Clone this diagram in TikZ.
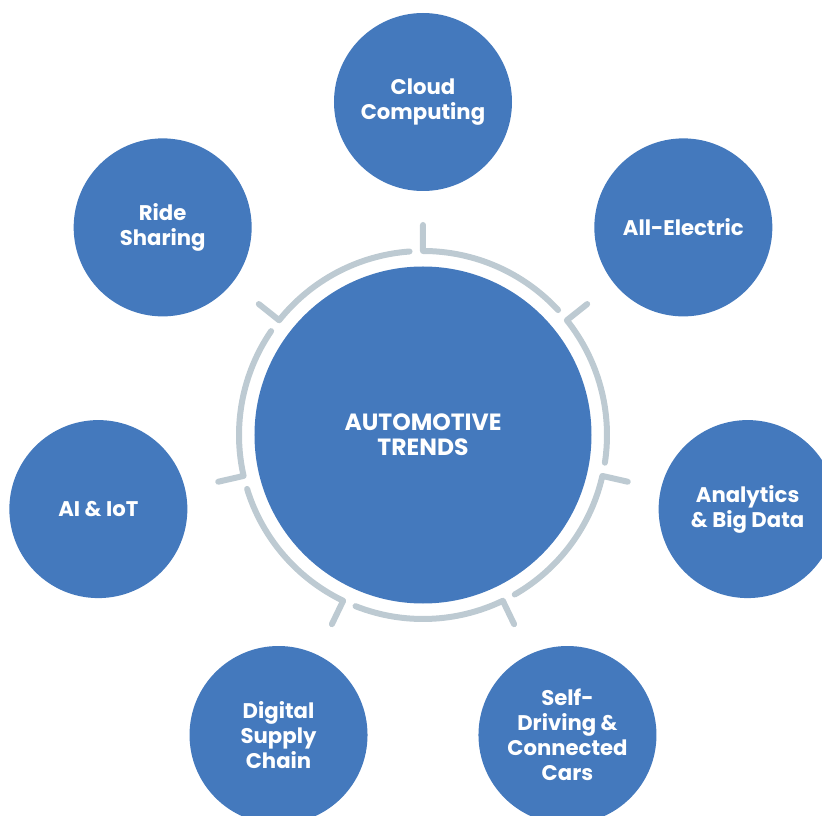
\documentclass[tikz,border=0pt]{standalone}
\usepackage{fontspec}
\setmainfont{Poppins}
\definecolor{tblue}{HTML}{4479BD}
\definecolor{ringgray}{HTML}{BDCAD2}
\begin{document}
\begin{tikzpicture}[x=1pt,y=1pt,
  trend/.style={circle, fill=tblue, minimum size=178pt, inner sep=0pt, text=white, align=center, font=\fontsize{21.2}{25}\selectfont\bfseries},
  hub/.style={circle, fill=tblue, minimum size=337pt, inner sep=0pt, text=white, align=center, font=\fontsize{23.5}{25}\selectfont\bfseries},
  ringseg/.style={draw=ringgray, line width=6pt, line cap=round, line join=round}]
\useasboundingbox (-423,-381) rectangle (399,435);
\node[hub] (c) at (0,0) {AUTOMOTIVE\\TRENDS};
\node[trend] (o1) at (90:333) {Cloud\\Computing};
\node[trend] (o2) at ({90-360/7}:333) {All-Electric};
\node[trend] (o3) at ({90-2*360/7}:333) {Analytics\\\& Big Data};
\node[trend] (o4) at ({90-3*360/7}:333) {Self-\\Driving \&\\Connected\\Cars};
\node[trend] (o5) at ({90-4*360/7}:333) {Digital\\Supply\\Chain};
\node[trend] (o6) at ({90-5*360/7}:333) {AI \& IoT};
\node[trend] (o7) at ({90-6*360/7}:333) {Ride\\Sharing};
\foreach \k in {0,...,6}{
  \pgfmathsetmacro\a{90-360/7*\k}
  \draw[ringseg] (\a:210) -- (\a:184) arc[start angle=\a, end angle={\a-360/7+4.2}, radius=184];
}
\end{tikzpicture}
\end{document}
